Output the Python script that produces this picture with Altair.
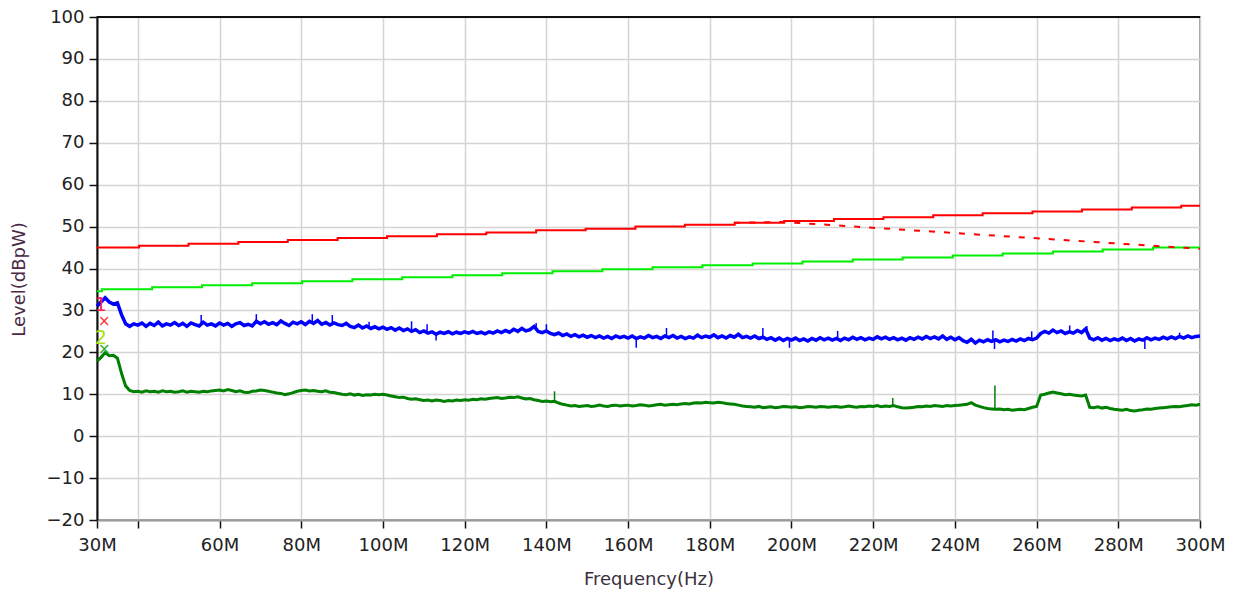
import altair as alt
import pandas as pd

# ---------------- data ----------------
freq_mhz = list(range(30, 301))  # 1 MHz sampling grid for the traces

blue_vals = [
    31.0, 32.0, 33.0, 32.0, 31.5, 31.8, 29.0, 26.8, 26.2, 26.8,
    26.5, 27.0, 26.2, 26.9, 26.4, 27.2, 26.3, 26.8, 26.5, 27.1,
    26.4, 26.9, 26.2, 27.0, 26.6, 26.3, 27.2, 26.5, 26.8, 26.3,
    27.0, 26.5, 26.9, 26.2, 26.8, 27.1, 26.4, 26.7, 26.3, 27.4,
    26.8, 27.3, 26.7, 27.1, 26.6, 27.5, 26.9, 26.4, 27.2, 26.8,
    27.3, 26.6, 27.4, 26.9, 27.6, 26.7, 27.1, 26.5, 27.0, 26.6,
    26.4, 26.9, 26.2, 25.9, 26.5, 25.8, 26.3, 25.7, 26.1, 25.6,
    26.0, 25.5, 25.9, 25.3, 25.8, 25.2, 25.6, 25.0, 25.4, 24.7,
    25.1, 24.6, 24.9, 24.3, 24.8, 24.5, 24.9, 24.4, 24.8, 24.5,
    24.9, 24.6, 25.0, 24.5, 24.8, 24.4, 24.9, 24.6, 25.1, 24.7,
    25.2, 24.8, 25.5, 25.0, 25.7, 25.1, 25.4, 26.2, 25.0, 24.7,
    25.1, 24.5, 24.2, 24.6, 24.0, 24.4, 23.8, 24.2, 23.7, 24.1,
    23.6, 24.0, 23.5, 23.9, 23.4, 23.8, 23.3, 23.9, 23.5, 23.8,
    23.4, 23.9, 23.3, 23.7, 23.4, 24.0, 23.5, 23.8, 23.3, 23.9,
    23.5, 24.0, 23.4, 23.8, 23.3, 23.7, 23.4, 24.1, 23.5, 23.9,
    23.6, 24.2, 23.5, 23.9, 23.4, 24.0, 23.6, 24.3, 23.5, 23.8,
    23.4, 23.9, 23.3, 23.6, 23.1, 23.5, 22.9, 23.4, 22.8, 23.3,
    22.9, 23.4, 22.8, 23.2, 22.7, 23.3, 22.9, 23.5, 23.0, 23.4,
    22.9, 23.3, 22.8, 23.4, 23.0, 23.6, 23.1, 23.5, 23.0, 23.4,
    23.1, 23.7, 23.2, 23.6, 23.1, 23.5, 23.0, 23.4, 22.9, 23.5,
    23.1, 23.6, 23.2, 23.8, 23.3, 23.7, 23.2, 23.9, 23.1, 23.6,
    23.0, 23.5, 22.8, 22.4, 23.1, 22.2, 22.9, 22.5, 23.0, 22.6,
    23.0, 22.5, 22.9, 22.6, 23.1, 22.7, 23.2, 22.8, 23.3, 23.0,
    23.4, 24.5, 25.0, 24.6, 25.3, 24.7, 25.1, 24.5, 24.9, 24.6,
    25.2, 24.7, 25.6, 23.4, 23.0, 23.5, 22.9, 23.3, 22.8, 23.2,
    22.9, 23.4, 22.8, 23.3, 22.7, 23.2, 22.9, 23.5, 23.0, 23.4,
    23.1, 23.6, 23.2, 23.7, 23.3, 23.8, 23.4, 23.9, 23.5, 23.8,
    23.9,
]

# narrow noise spikes on the blue trace: frequency (MHz), base level, spike level
blue_spike_f = [55.5, 69.0, 82.7, 87.6, 96.6, 107.0, 110.8, 113.0, 137.5, 140.0,
                162.0, 169.4, 193.0, 199.5, 211.3, 249.3, 249.7, 258.8, 268.1, 272.3,
                286.5, 295.0]
blue_spike_base = [26.6, 26.8, 27.0, 26.8, 26.0, 25.2, 24.8, 24.6, 25.4, 25.0,
                   23.6, 23.6, 23.6, 23.1, 23.1, 22.8, 22.8, 23.0, 24.8, 25.0,
                   23.0, 23.6]
blue_spike_peak = [28.9, 29.1, 29.1, 28.9, 27.3, 27.4, 26.7, 22.8, 27.0, 26.7,
                   21.1, 25.8, 25.8, 21.1, 25.1, 25.2, 20.8, 25.0, 26.4, 26.3,
                   20.8, 24.7]

green_vals = [
    17.9, 18.8, 19.9, 19.2, 19.3, 18.6, 15.0, 12.0, 10.9, 10.6,
    10.7, 10.5, 10.8, 10.6, 10.7, 10.5, 10.8, 10.6, 10.7, 10.5,
    10.6, 10.8, 10.5, 10.7, 10.6, 10.5, 10.7, 10.6, 10.8, 10.9,
    11.0, 10.8, 11.1, 10.9, 10.6, 10.8, 10.5, 10.4, 10.7, 10.8,
    11.0, 10.9, 10.7, 10.5, 10.3, 10.2, 9.9, 10.1, 10.4, 10.7,
    10.9, 11.0, 10.8, 10.9, 10.7, 10.6, 10.8, 10.5, 10.4, 10.2,
    10.0, 9.9, 10.1, 9.8, 10.0, 9.7, 9.9, 9.8, 10.0, 9.9,
    10.0, 9.8, 9.6, 9.4, 9.2, 9.3, 9.0, 8.8, 8.9, 8.7,
    8.5, 8.6, 8.4, 8.6, 8.5, 8.3, 8.5, 8.4, 8.6, 8.5,
    8.7, 8.6, 8.8, 8.7, 8.9, 8.8, 9.0, 9.1, 9.2, 9.0,
    9.1, 9.3, 9.2, 9.4, 9.1, 8.9, 9.0, 8.7, 8.5, 8.3,
    8.4, 8.2, 8.3, 7.9, 7.6, 7.4, 7.2, 7.3, 7.1, 7.2,
    7.3, 7.1, 7.2, 7.4, 7.2, 7.1, 7.3, 7.4, 7.2, 7.3,
    7.4, 7.2, 7.3, 7.5, 7.4, 7.2, 7.3, 7.5, 7.6, 7.4,
    7.5, 7.6, 7.5, 7.7, 7.8, 7.7, 7.9, 8.0, 7.9, 8.1,
    8.0, 7.9, 8.1, 8.0, 7.8, 7.7, 7.6, 7.4, 7.2, 7.1,
    7.0, 6.9, 7.1, 6.8, 6.9, 7.0, 6.8, 6.9, 7.1, 7.0,
    6.9, 7.0, 6.8, 6.9, 7.1, 7.0, 6.9, 7.1, 7.0, 6.9,
    7.0, 7.1, 6.9, 7.0, 7.2, 7.0, 6.9, 7.1, 7.0, 7.2,
    7.1, 7.3, 7.0, 7.2, 7.1, 7.3, 7.0, 6.8, 6.7, 6.8,
    6.9, 7.1, 7.0, 7.2, 7.1, 7.3, 7.2, 7.1, 7.3, 7.2,
    7.3, 7.4, 7.5, 7.6, 8.0, 7.4, 7.1, 6.8, 6.6, 6.5,
    6.4, 6.5, 6.3, 6.4, 6.2, 6.3, 6.4, 6.3, 6.6, 6.9,
    7.1, 9.8, 10.0, 10.3, 10.5, 10.3, 10.1, 9.9, 10.0, 9.8,
    9.7, 9.6, 9.8, 6.9, 6.8, 7.0, 6.7, 6.9, 6.6, 6.4,
    6.3, 6.2, 6.4, 6.1, 6.0, 6.2, 6.3, 6.5, 6.4, 6.6,
    6.7, 6.8, 6.9, 7.0, 7.1, 7.0, 7.2, 7.3, 7.5, 7.4,
    7.6,
]

# narrow spikes on the dark green trace: frequency (MHz), base level, peak level
green_spike_f = [142.0, 224.8, 249.8]
green_spike_base = [8.3, 7.1, 6.5]
green_spike_peak = [10.7, 9.1, 12.1]

# stepped limit lines
red_limit_f = [30, 40.3, 52.4, 64.6, 76.7, 88.9, 101.0, 113.2, 125.3, 137.5, 149.6,
               161.8, 173.9, 186.1, 198.2, 210.4, 222.5, 234.7, 246.8, 259.0, 271.1,
               283.3, 295.4, 300]
red_limit_v = [45.0, 45.45, 45.9, 46.35, 46.8, 47.25, 47.7, 48.2, 48.6, 49.1, 49.5,
               50.0, 50.45, 50.9, 51.35, 51.8, 52.25, 52.7, 53.2, 53.6, 54.1,
               54.55, 55.0, 55.0]

green_limit_f = [30, 31.2, 43.5, 55.7, 68.0, 80.2, 92.5, 104.7, 117.0, 129.2, 141.5,
                 153.7, 166.0, 178.2, 190.5, 202.7, 215.0, 227.2, 239.5, 251.7, 264.0,
                 276.2, 288.5, 300]
green_limit_v = [34.6, 35.07, 35.55, 36.02, 36.49, 36.96, 37.44, 37.91, 38.38, 38.85,
                 39.33, 39.8, 40.27, 40.75, 41.22, 41.69, 42.16, 42.64, 43.11, 43.58,
                 44.05, 44.53, 45.0, 45.0]

red_dash_f = [186, 198, 300]
red_dash_v = [50.9, 51.1, 44.7]

marker_f = [30.9, 31.8, 30.9, 31.8]
marker_v = [31.2, 27.4, 23.4, 20.8]
marker_text = ["1", "×", "2", "×"]
marker_color = ["#ff2050", "#ff3030", "#a8e010", "#20b020"]
marker_size = [19, 15, 19, 15]

x_ticks = [30, 40, 60, 80, 100, 120, 140, 160, 180, 200, 220, 240, 260, 280, 300]
y_ticks = [-20, -10, 0, 10, 20, 30, 40, 50, 60, 70, 80, 90, 100]

# ---------------- tables ----------------
blue_df = pd.DataFrame({"f": freq_mhz, "v": blue_vals})
green_df = pd.DataFrame({"f": freq_mhz, "v": green_vals})
blue_spk = pd.DataFrame({"f": blue_spike_f, "v": blue_spike_base, "v2": blue_spike_peak})
green_spk = pd.DataFrame({"f": green_spike_f, "v": green_spike_base, "v2": green_spike_peak})
red_lim_df = pd.DataFrame({"f": red_limit_f, "v": red_limit_v})
green_lim_df = pd.DataFrame({"f": green_limit_f, "v": green_limit_v})
red_dash_df = pd.DataFrame({"f": red_dash_f, "v": red_dash_v})
marker_df = pd.DataFrame({"f": marker_f, "v": marker_v, "t": marker_text,
                          "c": marker_color, "s": marker_size})

# ---------------- encodings ----------------
FONT = "DejaVu Sans"
x_enc = alt.X(
    "f:Q",
    scale=alt.Scale(domain=[30, 300], nice=False, zero=False),
    axis=alt.Axis(
        values=x_ticks,
        labelExpr="datum.value == 40 ? '' : datum.value + 'M'",
        title="Frequency(Hz)",
        titlePadding=16,
        labelPadding=8,
        tickSize=8,
        tickWidth=1.5,
        tickColor="#111",
        domainColor="#9a9a9a",
        domainWidth=2,
        labelFlush=False,
    ),
)
y_enc = alt.Y(
    "v:Q",
    scale=alt.Scale(domain=[-20, 100], nice=False, zero=False),
    axis=alt.Axis(
        values=y_ticks,
        title="Level(dBpW)",
        titlePadding=18,
        titleY=262,
        labelPadding=5,
        tickSize=8,
        tickWidth=1.5,
        tickColor="#111",
        domainColor="#111",
        domainWidth=2,
        titleColor="#4a2a45",
    ),
)

red_lim = alt.Chart(red_lim_df).mark_line(color="#ff0000", strokeWidth=2, interpolate="step-after").encode(x=x_enc, y=y_enc)
green_lim = alt.Chart(green_lim_df).mark_line(color="#00ee00", strokeWidth=2, interpolate="step-after").encode(x=x_enc, y=y_enc)
red_dash = alt.Chart(red_dash_df).mark_line(color="#ff0000", strokeWidth=2, strokeDash=[6, 9]).encode(x=x_enc, y=y_enc)
green_tr = alt.Chart(green_df).mark_line(color="#008000", strokeWidth=3).encode(x=x_enc, y=y_enc)
green_sp = alt.Chart(green_spk).mark_rule(color="#008000", strokeWidth=1.5).encode(x=x_enc, y=y_enc, y2="v2:Q")
blue_tr = alt.Chart(blue_df).mark_line(color="#0000ff", strokeWidth=3.5).encode(x=x_enc, y=y_enc)
blue_sp = alt.Chart(blue_spk).mark_rule(color="#0000ff", strokeWidth=1.5).encode(x=x_enc, y=y_enc, y2="v2:Q")
markers = alt.Chart(marker_df).mark_text(font=FONT, baseline="middle", align="center").encode(
    x=x_enc, y=y_enc, text="t:N",
    color=alt.Color("c:N", scale=None),
    size=alt.Size("s:Q", scale=None),
)
top_border = alt.Chart(red_lim_df).mark_rule(color="#111", strokeWidth=2).encode(
    x=alt.value(0), x2=alt.value(1103), y=alt.value(0)
)

chart = (
    alt.layer(red_lim, green_lim, red_dash, green_tr, green_sp, blue_tr, blue_sp, markers, top_border)
    .properties(
        width=1103,
        height=503,
        autosize=alt.AutoSizeParams(type="none"),
        padding={"left": 89, "top": 9, "right": 30, "bottom": 70},
        background="white",
    )
    .configure_view(stroke="#9a9a9a", strokeWidth=2)
    .configure_axis(
        labelFont=FONT,
        titleFont=FONT,
        labelFontSize=18,
        titleFontSize=18,
        titleFontWeight="normal",
        labelColor="#222",
        titleColor="#3a3040",
        gridColor="#d4d4d4",
        gridWidth=1.5,
    )
)

chart.save("out.html", embed_options={"renderer": "svg", "actions": False})
